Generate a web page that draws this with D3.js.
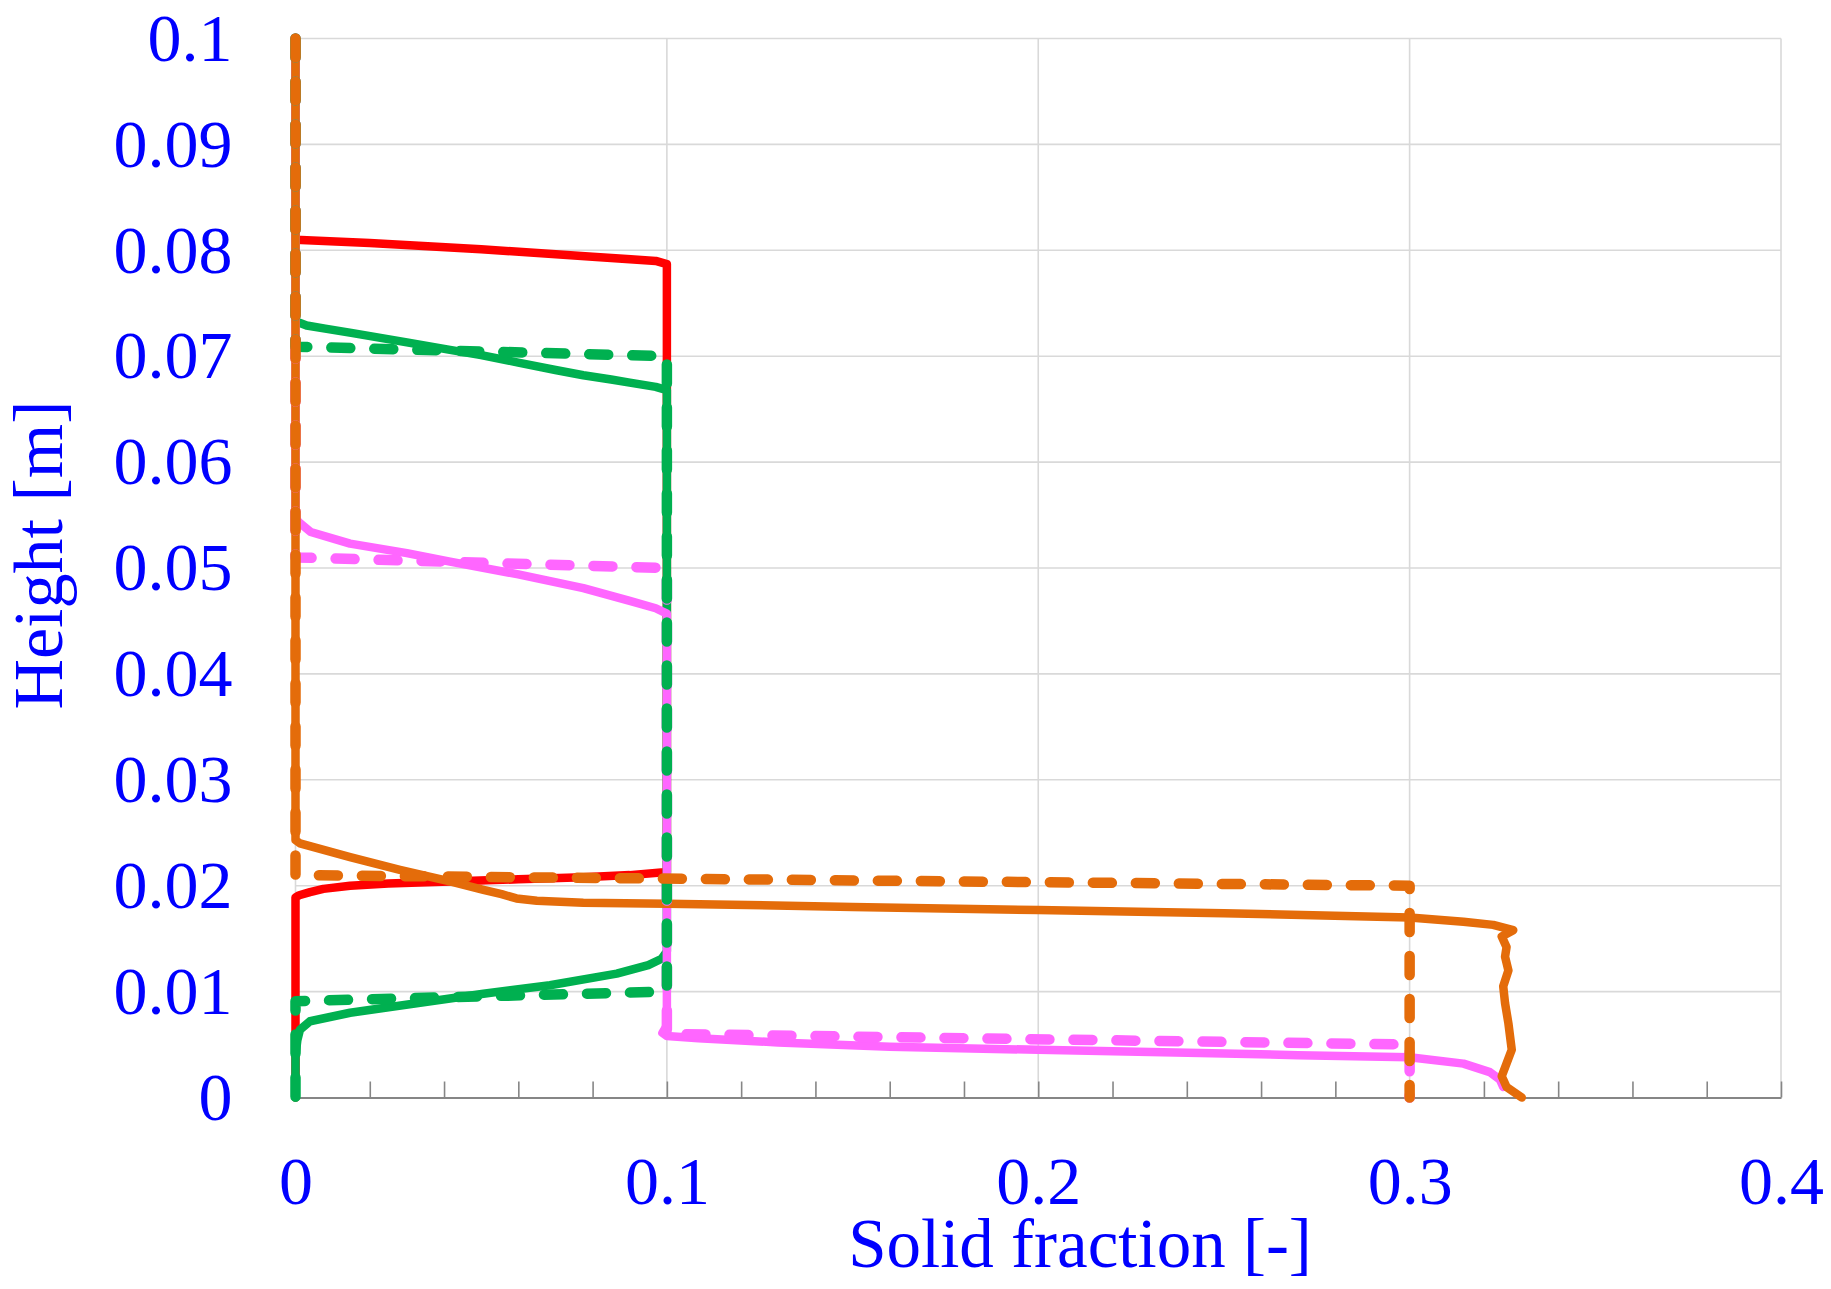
<!DOCTYPE html>
<html>
<head>
<meta charset="utf-8">
<script src="https://cdn.jsdelivr.net/npm/d3@7"></script>
<style>
  html, body { margin: 0; padding: 0; background: #ffffff; }
  svg { display: block; }
  text { font-family: "Liberation Serif", "Times New Roman", serif; fill: #0000ff; }
</style>
</head>
<body>
<svg id="chart" width="1831" height="1289"></svg>
<script>
// ---------------- data ----------------
const xTicks = [0, 0.1, 0.2, 0.3, 0.4];
const xTickLabels = ["0", "0.1", "0.2", "0.3", "0.4"];
const xMinorTicks = d3.range(0, 21).map(i => i * 0.02);
const yTicks = [0, 0.01, 0.02, 0.03, 0.04, 0.05, 0.06, 0.07, 0.08, 0.09, 0.1];
const yTickLabels = ["0", "0.01", "0.02", "0.03", "0.04", "0.05", "0.06", "0.07", "0.08", "0.09", "0.1"];

// simulated profiles (solid)
const redSolid = [[0,0.1],[0,0.0810],[0.02,0.0807],[0.05,0.0801],[0.08,0.0794],[0.097,0.0790],[0.1,0.0787],
  [0.1,0.0213],[0.09,0.0210],[0.0775,0.0208],[0.06,0.0206],[0.0416,0.0204],[0.025,0.0202],[0.0147,0.0200],
  [0.0075,0.0197],[0.0039,0.0194],[0.001,0.0191],[0,0.0189],[0,0]];
const greenSolid = [[0,0.1],[0,0.0733],[0.003,0.0729],[0.008,0.0726],[0.015,0.0722],[0.03,0.0713],[0.0416,0.0706],
  [0.05,0.0701],[0.06,0.0694],[0.07,0.0687],[0.0775,0.0682],[0.085,0.0678],[0.09,0.0675],[0.097,0.0671],[0.1,0.0668],
  [0.1,0.0138],[0.0986,0.0131],[0.095,0.0125],[0.0865,0.0117],[0.0685,0.0106],[0.0506,0.0098],[0.0326,0.0089],
  [0.0147,0.0080],[0.0039,0.0072],[0.0012,0.0064],[0.0005,0.0054],[0,0.004],[0,0]];
const pinkSolid = [[0,0.1],[0,0.0547],[0.001,0.0543],[0.0041,0.0534],[0.0147,0.0523],[0.03,0.0514],[0.0416,0.0506],
  [0.06,0.0494],[0.0775,0.0481],[0.09,0.0469],[0.097,0.0462],[0.1,0.0457],
  [0.1,0.0068],[0.0988,0.0061],[0.1,0.0058],[0.1085,0.0056],[0.13,0.0052],[0.16,0.0048],[0.2,0.0045],
  [0.2436,0.0042],[0.27,0.0040],[0.3,0.0038],[0.3145,0.0032],[0.3216,0.0024],[0.3243,0.0017],[0.3252,0.0010]];
const orangeSolid = [[0,0.1],[0,0.0243],[0.0012,0.0240],[0.0147,0.0227],[0.0281,0.0215],[0.0416,0.0204],
  [0.0506,0.0196],[0.0555,0.0192],[0.0595,0.0188],[0.065,0.01857],[0.0775,0.0184],[0.1,0.0183],[0.15,0.0180],[0.2,0.0177],
  [0.25,0.0174],[0.3,0.0170],[0.3145,0.0166],[0.3225,0.0163],[0.3279,0.0158],[0.3248,0.0152],[0.3261,0.0142],
  [0.3257,0.0133],[0.3266,0.0120],[0.3252,0.0105],[0.3257,0.0089],[0.3266,0.0070],[0.3275,0.0045],
  [0.3261,0.0032],[0.3248,0.0020],[0.3261,0.0010],[0.3302,0]];

// analytical profiles (dashed)
const orangeDashed = [[0,0.1],[0,0.0210],[0.3,0.0200],[0.3,0]];
const pinkDashed = [[0,0.1],[0,0.0510],[0.1,0.0500],[0.1,0.0060],[0.3,0.0050],[0.3,0]];
const greenDashed = [[0,0.1],[0,0.0709],[0.1,0.0700],[0.1,0.0100],[0,0.0091],[0,0]];

const solidSeries = [
  {name: "red", pts: redSolid, color: "#ff0000"},
  {name: "green", pts: greenSolid, color: "#00b050"},
  {name: "pink", pts: pinkSolid, color: "#ff66ff"},
  {name: "orange", pts: orangeSolid, color: "#e46c0a"}
];
const dashedSeries = [
  {name: "pink", pts: pinkDashed, color: "#ff66ff"},
  {name: "green", pts: greenDashed, color: "#00b050"},
  {name: "orange", pts: orangeDashed, color: "#e46c0a"}
];

// ---------------- layout ----------------
(function () {
const svg = d3.select("#chart");
const pLeft = 295.5, pRight = 1781, pTop = 38.5, pBottom = 1097.5;
const x = d3.scaleLinear().domain([0, 0.4]).range([pLeft, pRight]);
const y = d3.scaleLinear().domain([0, 0.1]).range([pBottom, pTop]);

// gridlines
const grid = svg.append("g");
grid.selectAll("line.h").data(yTicks.filter(v => v > 0)).join("line")
  .attr("class", "h")
  .attr("x1", pLeft).attr("x2", pRight)
  .attr("y1", d => y(d)).attr("y2", d => y(d))
  .attr("stroke", "#d9d9d9").attr("stroke-width", 1.6);
grid.selectAll("line.v").data(xTicks).join("line")
  .attr("class", "v")
  .attr("x1", d => x(d)).attr("x2", d => x(d))
  .attr("y1", pTop).attr("y2", pBottom)
  .attr("stroke", "#d9d9d9").attr("stroke-width", 1.6);

// bottom axis with inward minor ticks
const axisTicks = svg.append("g").attr("transform", `translate(0,${pBottom})`)
  .call(d3.axisBottom(x).tickValues(xMinorTicks).tickSizeInner(-16).tickSizeOuter(0).tickFormat(""));
axisTicks.select(".domain").attr("stroke", "#868686").attr("stroke-width", 2);
axisTicks.selectAll(".tick line").attr("stroke", "#868686").attr("stroke-width", 1.6);

// x tick labels
const xLab = svg.append("g").attr("transform", `translate(0,${pBottom})`)
  .call(d3.axisBottom(x).tickValues(xTicks).tickSize(0).tickPadding(58)
    .tickFormat((d, i) => xTickLabels[i]));
xLab.select(".domain").remove();
xLab.selectAll("text").attr("font-size", 68).attr("font-family", "Liberation Serif, serif").attr("fill", "#0000ff");

// y tick labels
const yLab = svg.append("g").attr("transform", `translate(${pLeft},0)`)
  .call(d3.axisLeft(y).tickValues(yTicks).tickSize(0).tickPadding(63)
    .tickFormat((d, i) => yTickLabels[i]));
yLab.select(".domain").remove();
yLab.selectAll("text").attr("font-size", 68).attr("font-family", "Liberation Serif, serif").attr("fill", "#0000ff");

// lines
const line = d3.line().x(d => x(d[0])).y(d => y(d[1]));
const plot = svg.append("g");
solidSeries.forEach(s => {
  plot.append("path").attr("d", line(s.pts))
    .attr("fill", "none").attr("stroke", s.color).attr("stroke-width", 8.5)
    .attr("stroke-linejoin", "round").attr("stroke-linecap", "round");
});
dashedSeries.forEach(s => {
  plot.append("path").attr("d", line(s.pts))
    .attr("fill", "none").attr("stroke", s.color).attr("stroke-width", 10.5)
    .attr("stroke-linejoin", "round").attr("stroke-linecap", "round")
    .attr("stroke-dasharray", "19 24");
});

// axis titles
svg.append("text").attr("x", 1080).attr("y", 1267).attr("text-anchor", "middle")
  .attr("font-size", 69).text("Solid fraction [-]");
svg.append("text").attr("transform", "translate(62,555) rotate(-90)").attr("text-anchor", "middle")
  .attr("font-size", 70).text("Height [m]");
})();
</script>
</body>
</html>
